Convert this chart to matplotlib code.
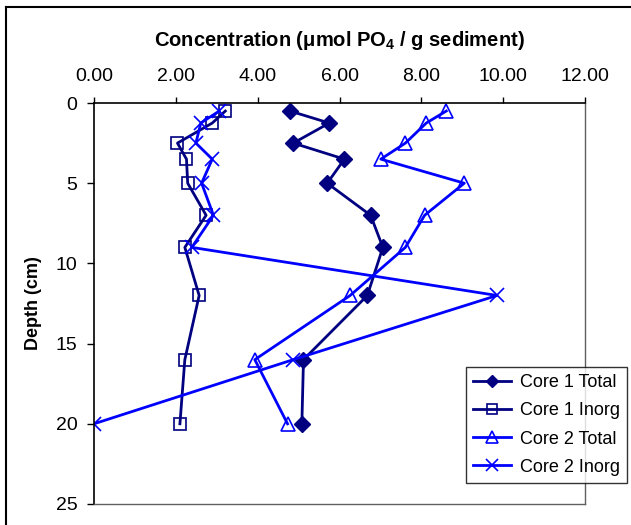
import matplotlib
matplotlib.use("Agg")
import matplotlib.pyplot as plt
from matplotlib.lines import Line2D
from matplotlib.ticker import FormatStrFormatter

plt.rcParams['font.family'] = ['Liberation Sans', 'DejaVu Sans']
plt.rcParams['mathtext.fontset'] = 'custom'
plt.rcParams['mathtext.rm'] = 'Liberation Sans'
plt.rcParams['mathtext.bf'] = 'Liberation Sans:bold'

# 深度 (cm)
depth = [0.5, 1.25, 2.5, 3.5, 5, 7, 9, 12, 16, 20]
# 浓度 (umol PO4 / g)
core1_total = [4.79, 5.75, 4.87, 6.12, 5.70, 6.76, 7.06, 6.68, 5.12, 5.08]
core1_inorg = [3.21, 2.89, 2.04, 2.26, 2.29, 2.74, 2.22, 2.57, 2.22, 2.10]
core2_total = [8.61, 8.12, 7.61, 7.01, 9.05, 8.08, 7.61, 6.26, 3.93, 4.73]
core2_inorg = [3.06, 2.61, 2.49, 2.89, 2.63, 2.92, 2.39, 9.85, 4.87, 0.0]
labels = ["Core 1 Total", "Core 1 Inorg", "Core 2 Total", "Core 2 Inorg"]

navy = "#000080"
blue = "#0000FF"

fig = plt.figure(figsize=(6.31, 5.25), dpi=100)
ax = fig.add_axes([94 / 631, 1 - 504 / 525, 491 / 631, 401 / 525])

ax.plot(core1_total, depth, color=navy, lw=2.0, marker='D', ms=8,
        mfc=navy, mec=navy, label=labels[0])
ax.plot(core1_inorg, depth, color=navy, lw=2.0, marker='s', ms=8.5,
        mfc='none', mec=navy, mew=1.2, label=labels[1])
ax.plot(core2_total, depth, color=blue, lw=2.0, marker='^', ms=10,
        mfc='none', mec=blue, mew=1.2, label=labels[2])
ax.plot(core2_inorg, depth, color=blue, lw=2.0, marker='x', ms=10,
        mec=blue, mew=1.2, label=labels[3])

ax.set_xlim(0, 12)
ax.set_ylim(25, 0)
ax.set_xticks(range(0, 13, 2))
ax.set_yticks(range(0, 26, 5))
ax.xaxis.set_major_formatter(FormatStrFormatter('%.2f'))
ax.xaxis.tick_top()
ax.xaxis.set_label_position('top')
ax.tick_params(axis='x', direction='out', length=4, width=1, labelsize=14, pad=9)
ax.tick_params(axis='y', direction='out', length=5, width=1, labelsize=14, pad=7)

for side in ['top', 'left']:
    ax.spines[side].set_color('black')
    ax.spines[side].set_linewidth(1.2)
for side in ['right', 'bottom']:
    ax.spines[side].set_color('#606060')
    ax.spines[side].set_linewidth(1.0)

ax.set_xlabel(r'Concentration ($\mathbf{\mu}$mol PO$_\mathbf{4}$ / g sediment)',
              fontsize=14.5, fontweight='bold', labelpad=16)
ax.set_ylabel('Depth (cm)', fontsize=13, fontweight='bold', labelpad=10)

leg = ax.legend(loc='lower left', bbox_to_anchor=(466 / 631, 1 - 483 / 525),
                bbox_transform=fig.transFigure, fontsize=13, frameon=True,
                fancybox=False, edgecolor='black', handlelength=2.1,
                borderpad=0.4, labelspacing=0.62, handletextpad=0.5,
                markerscale=0.8, borderaxespad=0)
leg.get_frame().set_linewidth(1.0)

# 外框
fig.add_artist(Line2D([6 / 631, 6 / 631], [0, 1 - 7 / 525], transform=fig.transFigure,
                      color='black', lw=1.5))
fig.add_artist(Line2D([6 / 631, 1], [1 - 7 / 525, 1 - 7 / 525], transform=fig.transFigure,
                      color='black', lw=1.5))

fig.savefig("out.png", dpi=100)
